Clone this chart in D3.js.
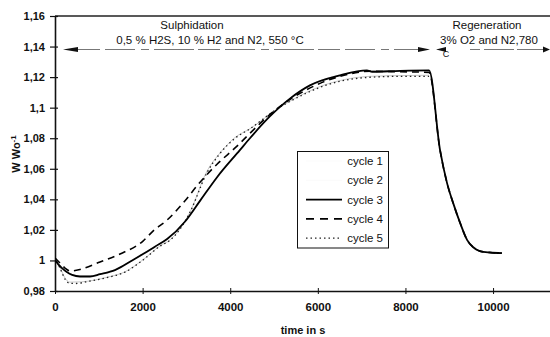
<!DOCTYPE html>
<html><head><meta charset="utf-8">
<script src="https://cdn.jsdelivr.net/npm/d3@7"></script>
<style>body{margin:0;background:#fff}svg{display:block;font-family:Arial,"Liberation Sans",sans-serif}</style>
</head><body><svg id="c" width="550" height="337"></svg>
<script>
// ---- data ----
const xTicks = [0, 2000, 4000, 6000, 8000, 10000];
const yTicks = [0.98, 1, 1.02, 1.04, 1.06, 1.08, 1.1, 1.12, 1.14, 1.16];
const seriesNames = ["cycle 1", "cycle 2", "cycle 3", "cycle 4", "cycle 5"];
const dropT = [8790, 8950, 9090, 9250, 9410, 9540, 9700, 9930, 10200];
const dropV = [1.0722, 1.0506, 1.0375, 1.0244, 1.0133, 1.0088, 1.0061, 1.0052, 1.0048];
const cycle1T = [0, 114, 228, 340, 600, 1190, 1600, 2010, 2400, 2630, 2850, 3080, 3470, 3770, 4110, 4450, 5020, 5590, 6050, 6510, 7190, 7880, 8540];
const cycle1V = [1.0016, 0.9955, 0.9885, 0.9858, 0.9860, 0.9890, 0.9926, 1.0005, 1.0096, 1.0135, 1.0205, 1.0316, 1.0585, 1.0705, 1.0805, 1.0862, 1.0980, 1.1078, 1.1138, 1.1178, 1.1205, 1.1210, 1.1212];
const cycle2T = [0, 70, 160, 270, 390, 570, 800, 1030, 1370, 1780, 2010, 2280, 2560, 2970, 3310, 3700, 4220, 4450, 4910, 5370, 5820, 6510, 7120, 7880, 8540];
const cycle2V = [1.0005, 0.9978, 0.9952, 0.9926, 0.9908, 0.9898, 0.9898, 0.9912, 0.9940, 1.0005, 1.0045, 1.0092, 1.0142, 1.0258, 1.0393, 1.0548, 1.0725, 1.0802, 1.0946, 1.1063, 1.1148, 1.1214, 1.1242, 1.1240, 1.1242];
const cycle3T = [0, 70, 160, 270, 390, 570, 800, 1030, 1370, 1780, 2010, 2280, 2560, 2970, 3310, 3700, 4220, 4450, 4910, 5370, 5820, 6510, 7120, 7240, 7880, 8540];
const cycle3V = [1.0003, 0.9976, 0.995, 0.9924, 0.9905, 0.9895, 0.9895, 0.991, 0.9937, 1.0003, 1.0042, 1.009, 1.014, 1.0255, 1.039, 1.0545, 1.0722, 1.080, 1.0944, 1.1061, 1.1146, 1.1212, 1.1244, 1.1235, 1.1241, 1.1244];
const cycle4T = [0, 114, 228, 342, 571, 1027, 1484, 2009, 2237, 2557, 2922, 3311, 3699, 4155, 4452, 5023, 5594, 6050, 6507, 7192, 7877, 8539];
const cycle4V = [1.0016, 0.9983, 0.995, 0.9931, 0.9941, 0.999, 1.0042, 1.0127, 1.0192, 1.0264, 1.0375, 1.0512, 1.063, 1.0748, 1.0833, 1.0983, 1.1094, 1.1159, 1.1205, 1.1238, 1.1235, 1.1231];
const cycle5T = [0, 114, 228, 320, 457, 799, 1187, 1598, 2009, 2397, 2626, 2854, 3082, 3470, 3767, 4110, 4452, 5023, 5594, 6050, 6507, 7192, 7877, 8539];
const cycle5V = [1.0016, 0.995, 0.9878, 0.9852, 0.9849, 0.9865, 0.9888, 0.9924, 1.0003, 1.0094, 1.0133, 1.0205, 1.0316, 1.0575, 1.0700, 1.0800, 1.0862, 1.0983, 1.1075, 1.1133, 1.1173, 1.1199, 1.1205, 1.1205];

// ---- layout ----
const svg = d3.select("#c");
const L = 55, R = 550, T = 16, B = 291;
const x = d3.scaleLinear().domain([0, 11300]).range([L, R]);
const y = d3.scaleLinear().domain([0.98, 1.16]).range([B, T]);
const fmt = d => String(+d.toFixed(2)).replace(".", ",");

svg.append("defs").append("clipPath").attr("id", "pc")
  .append("rect").attr("x", L).attr("y", T - 2).attr("width", R - L).attr("height", B - T + 2);

// frame: top border
svg.append("line").attr("x1", L).attr("x2", R).attr("y1", T).attr("y2", T)
  .attr("stroke", "#222").attr("stroke-width", 1.5);

// y axis
const ya = svg.append("g").attr("transform", `translate(${L},0)`)
  .call(d3.axisLeft(y).tickValues(yTicks).tickFormat(fmt).tickSizeInner(5).tickSizeOuter(0).tickPadding(5));
ya.select(".domain").attr("stroke", "#111").attr("stroke-width", 1.6);
ya.selectAll(".tick line").attr("stroke", "#111").attr("x2", 3).attr("x1", -5).attr("stroke-width", 1.2);
ya.selectAll("text").attr("font-size", 11).attr("fill", "#111").attr("font-weight", 600);

// x axis
const xa = svg.append("g").attr("transform", `translate(0,${B})`)
  .call(d3.axisBottom(x).tickValues(xTicks).tickFormat(d => d).tickSizeInner(3).tickSizeOuter(0).tickPadding(9));
xa.select(".domain").attr("stroke", "#111").attr("stroke-width", 1.6);
xa.selectAll(".tick line").attr("stroke", "#111").attr("y1", -3).attr("y2", 3);
xa.selectAll("text").attr("font-size", 11.5).attr("fill", "#111").attr("font-weight", 600);

// axis titles
svg.append("text").attr("x", 303).attr("y", 334).attr("text-anchor", "middle")
  .attr("font-size", 11).attr("font-weight", "bold").attr("fill", "#111").text("time in s");
const yl = svg.append("text").attr("transform", "translate(20,154) rotate(-90)")
  .attr("text-anchor", "middle").attr("font-size", 11).attr("font-weight", "bold").attr("fill", "#111");
yl.append("tspan").text("W Wo");
yl.append("tspan").attr("dy", -4).attr("font-size", 8).text("-1");

// curves
const line = d3.line().x(d => x(d[0])).y(d => y(d[1])).curve(d3.curveMonotoneX);
const pts = (t, v) => t.map((d, i) => [d, v[i]]);
const withDrop = (t, v) => pts(t, v).concat(pts(dropT, dropV));
const styles = [
  {stroke: "#b0b0b0", w: 0.7, dash: null},
  {stroke: "#b8b8b8", w: 0.7, dash: null},
  {stroke: "#000", w: 1.8, dash: null},
  {stroke: "#000", w: 1.6, dash: "7,5"},
  {stroke: "#222", w: 1.3, dash: "1.5,3"}
];
const series = [
  pts(cycle1T, cycle1V),
  pts(cycle2T, cycle2V),
  withDrop(cycle3T, cycle3V),
  withDrop(cycle4T, cycle4V),
  pts(cycle5T, cycle5V)
];
const g = svg.append("g").attr("clip-path", "url(#pc)");
[0, 1, 4, 3, 2].forEach(i => {
  g.append("path").datum(series[i]).attr("d", line).attr("fill", "none")
    .attr("stroke", styles[i].stroke).attr("stroke-width", styles[i].w)
    .attr("stroke-dasharray", styles[i].dash);
});

// annotations
const ann = svg.append("g").attr("font-size", 11.5).attr("fill", "#111").attr("text-anchor", "middle");
ann.append("text").attr("x", 192).attr("y", 29).text("Sulphidation");
ann.append("text").attr("x", 210).attr("y", 44).text("0,5 % H2S, 10 % H2 and N2, 550 °C");
ann.append("text").attr("x", 487).attr("y", 29).text("Regeneration");
ann.append("text").attr("x", 489).attr("y", 44).text("3% O2 and N2,780");
ann.append("text").attr("x", 446).attr("y", 57).attr("font-size", 9).text("C");

const ay = 49.5;
svg.append("line").attr("x1", 78).attr("x2", 418).attr("y1", ay).attr("y2", ay)
  .attr("stroke", "#777").attr("stroke-width", 1).attr("stroke-dasharray", "22,5,30,6,8,5,40,4");
svg.append("line").attr("x1", 470).attr("x2", 543).attr("y1", ay).attr("y2", ay)
  .attr("stroke", "#777").attr("stroke-width", 1).attr("stroke-dasharray", "10,4,30,3,40");
const tri = (tip, base, h) => `M${tip},${ay}L${base},${ay - h}L${base},${ay + h}Z`;
svg.append("path").attr("d", tri(63, 78, 2.5)).attr("fill", "#111");
svg.append("path").attr("d", tri(430, 418, 2.5)).attr("fill", "#111");
svg.append("path").attr("d", tri(436, 446, 2.5)).attr("fill", "#111");
svg.append("path").attr("d", tri(550, 543, 3)).attr("fill", "#111");

// legend
const lg = svg.append("g");
lg.append("rect").attr("x", 297.5).attr("y", 151.5).attr("width", 91).attr("height", 96.5)
  .attr("fill", "#fff").attr("stroke", "#111").attr("stroke-width", 1);
seriesNames.forEach((n, i) => {
  const cy = 161 + i * 19.3;
  lg.append("line").attr("x1", 306).attr("x2", 342).attr("y1", cy).attr("y2", cy)
    .attr("stroke", i < 2 ? "#f4f4f4" : styles[i].stroke).attr("stroke-width", i < 2 ? 0.5 : styles[i].w)
    .attr("stroke-dasharray", i === 3 ? "8,6" : styles[i].dash);
  lg.append("text").attr("x", 383).attr("y", cy + 4).attr("text-anchor", "end")
    .attr("font-size", 11.5).attr("fill", "#111").text(n);
});
</script></body></html>
